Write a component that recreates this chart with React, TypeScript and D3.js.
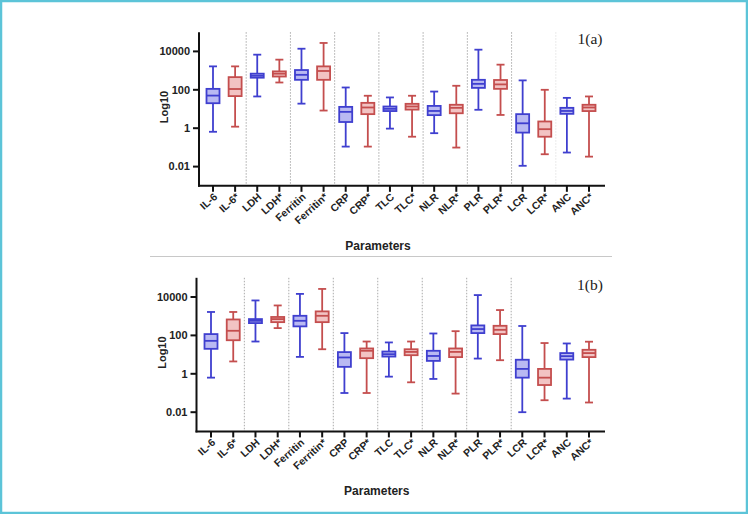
import React from "react";
import * as d3 from "d3";

const categories = ["IL-6","IL-6*","LDH","LDH*","Ferritin","Ferritin*","CRP","CRP*","TLC","TLC*","NLR","NLR*","PLR","PLR*","LCR","LCR*","ANC","ANC*"];
const groupColor = ["blue","red","blue","red","blue","red","blue","red","blue","red","blue","red","blue","red","blue","red","blue","red"];
// [min, q1, median, q3, max]
const panelA: number[][] = [
  [0.65, 20, 50, 112, 1660],
  [1.2, 47, 110, 457, 1660],
  [45, 427, 537, 692, 6760],
  [240, 490, 692, 912, 3720],
  [19, 331, 603, 1070, 13800],
  [8.3, 331, 955, 1660, 27500],
  [0.11, 2.1, 7.1, 12.9, 132],
  [0.11, 5.4, 12, 20.9, 49],
  [0.95, 7.8, 10.2, 13.5, 40],
  [0.36, 9.3, 13.5, 18.6, 49],
  [0.55, 4.8, 7.9, 14.5, 81],
  [0.098, 6, 11.5, 16.6, 162],
  [9.1, 126, 204, 331, 12300],
  [4.9, 112, 191, 324, 2040],
  [0.011, 0.59, 1.8, 5.4, 309],
  [0.044, 0.36, 0.89, 2.24, 100],
  [0.054, 5.6, 7.9, 11.5, 38],
  [0.033, 7.8, 12, 16.6, 45],
];
const panelB: number[][] = [
  [0.63, 20, 52, 117, 1660],
  [4.4, 56, 174, 676, 1660],
  [48, 437, 575, 708, 6610],
  [240, 490, 708, 912, 3630],
  [7.6, 295, 575, 1050, 14500],
  [19, 490, 1050, 1780, 26300],
  [0.1, 2.3, 7.1, 13.5, 132],
  [0.1, 6.5, 15.8, 20.9, 48],
  [0.71, 7.9, 10.5, 14.5, 43],
  [0.36, 9.3, 13.8, 19, 48],
  [0.54, 4.7, 8.5, 15.8, 126],
  [0.093, 7.4, 13.8, 20.9, 166],
  [6.2, 132, 214, 331, 12600],
  [5.1, 117, 195, 316, 2090],
  [0.01, 0.63, 1.8, 5.4, 309],
  [0.042, 0.26, 0.63, 1.8, 40],
  [0.051, 5.5, 8.3, 12, 38],
  [0.032, 7.4, 12, 17.8, 47],
];
const yTicks = [0.01, 1, 100, 10000];
const yTickLabels = ["0.01", "1", "100", "10000"];
const panelTitles = ["1(a)", "1(b)"];

const COLORS: Record<string, { stroke: string; fill: string }> = {
  blue: { stroke: "#3f3fcf", fill: "#b9b9f2" },
  red: { stroke: "#c44e4e", fill: "#f2c3c3" },
};
const SANS = "'Liberation Sans', Arial, sans-serif";

function Panel({ data, title, dy, axisX, firstX, seps }: { data: number[][]; title: string; dy: number; axisX: number; firstX: number; seps: number }) {
  const axisBottom = 185.8 + dy;
  const axisTop = 32.2 + dy;
  const y = d3.scaleLog().domain([1e-3, 1e5]).range([axisBottom, axisTop]);
  const x = d3.scalePoint<string>().domain(categories).range([firstX, 589]);
  const bw = 13;
  const cw = 8;
  const xEnd = 605;
  return (
    <g>
      {d3.range(seps).map((i) => {
        const sx = (x(categories[i * 2 + 1])! + x(categories[i * 2 + 2])!) / 2;
        return (
          <line key={"s" + i} x1={sx} x2={sx} y1={axisTop} y2={axisBottom} stroke={i === 7 ? "#e4e4e4" : "#aaa"} strokeWidth={1} strokeDasharray="1.5,1.5" />
        );
      })}
      {data.map((d, i) => {
        const c = COLORS[groupColor[i]];
        const cx = x(categories[i])!;
        const [mn, q1, md, q3, mx] = d;
        return (
          <g key={"b" + i} stroke={c.stroke} strokeWidth={1.8}>
            <line x1={cx} x2={cx} y1={y(mx)} y2={y(q3)} />
            <line x1={cx} x2={cx} y1={y(q1)} y2={y(mn)} />
            <line x1={cx - cw / 2} x2={cx + cw / 2} y1={y(mx)} y2={y(mx)} />
            <line x1={cx - cw / 2} x2={cx + cw / 2} y1={y(mn)} y2={y(mn)} />
            <rect x={cx - bw / 2} y={y(q3)} width={bw} height={Math.max(1, y(q1) - y(q3))} fill={c.fill} />
            <line x1={cx - bw / 2} x2={cx + bw / 2} y1={y(md)} y2={y(md)} />
          </g>
        );
      })}
      <line x1={axisX} x2={axisX} y1={axisTop} y2={axisBottom + 1} stroke="#111" strokeWidth={2} />
      {yTicks.map((t, i) => (
        <g key={"yt" + i}>
          <line x1={axisX - 6} x2={axisX} y1={y(t)} y2={y(t)} stroke="#111" strokeWidth={2} />
          <text x={axisX - 9} y={y(t)} dy="0.35em" textAnchor="end" fontFamily={SANS} fontWeight="bold" fontSize={11} fill="#222">
            {yTickLabels[i]}
          </text>
        </g>
      ))}
      <text transform={`translate(${axisX - 31},${(axisTop + axisBottom) / 2 - 2}) rotate(-90)`} textAnchor="middle" fontFamily={SANS} fontWeight="bold" fontSize={11} fill="#222">
        Log10
      </text>
      <line x1={axisX - 1} x2={xEnd} y1={axisBottom} y2={axisBottom} stroke="#111" strokeWidth={2} />
      {categories.map((cat) => {
        const cx = x(cat)!;
        return (
          <g key={"xt" + cat}>
            <line x1={cx} x2={cx} y1={axisBottom} y2={axisBottom + 6} stroke="#111" strokeWidth={2} />
            <text transform={`translate(${cx + 5},${axisBottom + 12}) rotate(-42)`} textAnchor="end" fontFamily={SANS} fontWeight="bold" fontSize={10.5} fill="#222">
              {cat}
            </text>
          </g>
        );
      })}
      <text x={(axisX + xEnd) / 2 - 24} y={axisBottom + 64} textAnchor="middle" fontFamily={SANS} fontWeight="bold" fontSize={12} fill="#222">
        Parameters
      </text>
      <text x={590} y={44 + dy} textAnchor="middle" fontFamily="'Liberation Serif', 'Times New Roman', serif" fontSize={15.5} fill="#222">
        {title}
      </text>
    </g>
  );
}

export default function App() {
  return (
    <svg width={748} height={514} style={{ position: "absolute", left: 0, top: 0, background: "#fff" }}>
      <rect x={0} y={0} width={748} height={514} fill="#fff" />
      <Panel data={panelA} title={panelTitles[0]} dy={0} axisX={199} firstX={213} seps={8} />
      <line x1={150} x2={612} y1={256.5} y2={256.5} stroke="#c8c8c8" strokeWidth={1} />
      <Panel data={panelB} title={panelTitles[1]} dy={245.6} axisX={196.5} firstX={211} seps={7} />
      <rect x={1} y={1} width={746} height={512} fill="none" stroke="#5cc4d8" strokeWidth={2.5} />
    </svg>
  );
}
